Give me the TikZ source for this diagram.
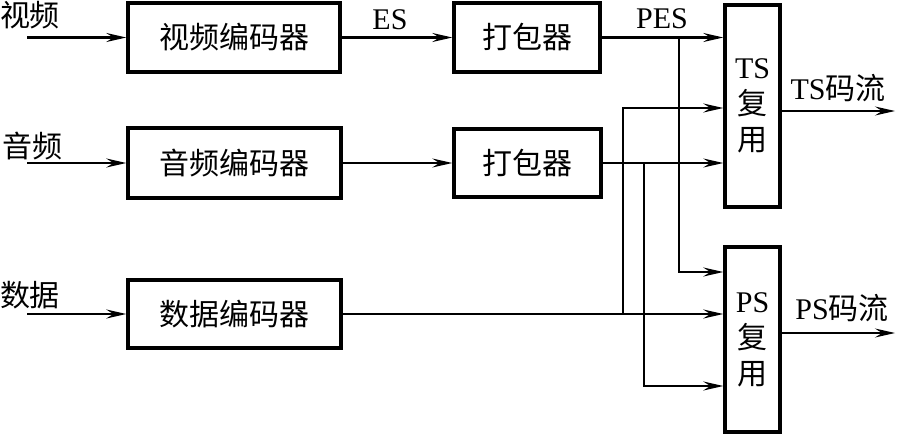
\documentclass[tikz,border=0pt]{standalone}
\usepackage{fontspec}
\setmainfont{Liberation Serif}
\newfontfamily\cjk{Noto Sans CJK SC}
\usetikzlibrary{arrows.meta}
\begin{document}
\begin{tikzpicture}[x=1pt,y=-1pt,
  blk/.style={draw,line width=3.4pt,inner sep=0pt,font=\fontsize{30}{32}\selectfont\cjk},
  mux/.style={draw,line width=3.4pt,inner sep=0pt,minimum width=55pt,align=center,font=\fontsize{30}{36}\selectfont},
  lbl/.style={inner sep=0pt,font=\fontsize{30}{32}\selectfont},
  ln/.style={line width=2.2pt},
  thin/.style={line width=1.4pt},
  arr/.style={-{Stealth[length=20pt,width=9pt,inset=7pt]}}]
\useasboundingbox (0,0) rectangle (902,434);
% blocks
\node[blk,minimum width=212pt,minimum height=69pt] (venc) at (234,37.5) {视频编码器};
\node[blk,minimum width=213pt,minimum height=70pt] (aenc) at (234.5,163) {音频编码器};
\node[blk,minimum width=213pt,minimum height=68pt] (denc) at (234.5,314) {数据编码器};
\node[blk,minimum width=146pt,minimum height=69pt] (pk1) at (527,37.5) {打包器};
\node[blk,minimum width=147pt,minimum height=68pt] (pk2) at (527.5,163) {打包器};
\node[mux,minimum height=202pt] (tsm) at (752.5,106) {TS\\{\cjk 复}\\{\cjk 用}};
\node[mux,minimum height=185pt] (psm) at (752.5,339.5) {PS\\{\cjk 复}\\{\cjk 用}};
% labels
\node[lbl] (lv) at (30,15) {\cjk 视频};
\node[lbl] (la) at (32,146) {\cjk 音频};
\node[lbl] (ld) at (30,295) {\cjk 数据};
\node[lbl] (les) at (390,20) {ES};
\node[lbl] (lpes) at (662,19) {PES};
\node[lbl] (lts) at (838,88) {TS{\cjk 码流}};
\node[lbl] (lps) at (842,308) {PS{\cjk 码流}};
% coordinates
\coordinate (vin) at (27,37.5);
\coordinate (ain) at (27,163);
\coordinate (din) at (27,314);
\coordinate (tsout) at (895,111);
\coordinate (psout) at (895,333);
\coordinate (j1) at (623,314);
\coordinate (j2) at (679,37.5);
\coordinate (j3) at (644,163);
\coordinate (t2) at (623,108);
\coordinate (p1) at (679,272);
\coordinate (p3) at (644,386);
% inputs
\draw[ln,arr] (vin) -- (venc.west);
\draw[ln,arr] (ain) -- (aenc.west);
\draw[ln,arr] (din) -- (denc.west);
% chains
\draw[ln,arr] (venc.east) -- (pk1.west);
\draw[thin,arr] (aenc.east) -- (pk2.west);
\draw[ln,arr] (pk1.east) -- (pk1.east -| tsm.west);
\draw[thin,arr] (pk2.east) -- (pk2.east -| tsm.west);
\draw[ln,arr] (denc.east) -- (denc.east -| psm.west);
% branches
\draw[ln,arr] (j1) -- (t2) -- (t2 -| tsm.west);
\draw[ln,arr] (j2) -- (p1) -- (p1 -| psm.west);
\draw[ln,arr] (j3) -- (p3) -- (p3 -| psm.west);
% outputs
\draw[thin,arr] (tsm.east |- tsout) -- (tsout);
\draw[thin,arr] (psm.east |- psout) -- (psout);
\end{tikzpicture}
\end{document}
